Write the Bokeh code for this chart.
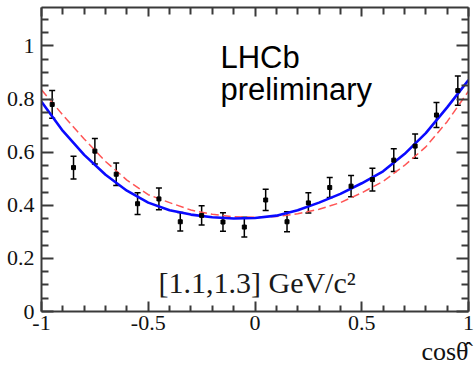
from bokeh.plotting import figure
from bokeh.models import (ColumnDataSource, Whisker, TeeHead, LinearAxis,
                          FixedTicker, Label, Range1d, Title)
from bokeh.embed import file_html
from bokeh.resources import INLINE

# ---- data ----
bin_centers = [-0.95, -0.85, -0.75, -0.65, -0.55, -0.45, -0.35, -0.25, -0.15, -0.05,
               0.05, 0.15, 0.25, 0.35, 0.45, 0.55, 0.65, 0.75, 0.85, 0.95]
values = [0.780, 0.542, 0.604, 0.517, 0.406, 0.424, 0.338, 0.362, 0.337, 0.318,
          0.420, 0.338, 0.409, 0.467, 0.472, 0.497, 0.570, 0.623, 0.740, 0.832]
errors = [0.052, 0.043, 0.048, 0.042, 0.041, 0.041, 0.035, 0.036, 0.035, 0.037,
          0.040, 0.038, 0.038, 0.038, 0.040, 0.043, 0.043, 0.046, 0.047, 0.055]

curve_x = [-1.0, -0.9, -0.8, -0.7, -0.6, -0.5, -0.4, -0.3, -0.2, -0.1, 0.0,
           0.1, 0.2, 0.3, 0.4, 0.5, 0.6, 0.7, 0.8, 0.9, 1.0]
fit_blue = [0.790, 0.680, 0.590, 0.515, 0.455, 0.410, 0.381, 0.365, 0.355, 0.350, 0.352,
            0.361, 0.381, 0.410, 0.443, 0.483, 0.528, 0.593, 0.672, 0.769, 0.872]
fit_red = [0.835, 0.740, 0.650, 0.565, 0.495, 0.440, 0.410, 0.382, 0.366, 0.357, 0.355,
           0.358, 0.368, 0.385, 0.410, 0.447, 0.490, 0.550, 0.620, 0.715, 0.830]

x_ticks = [-1.0, -0.5, 0.0, 0.5, 1.0]
x_tick_labels = ["-1", "-0.5", "0", "0.5", "1"]
x_minor_ticks = [-0.9, -0.8, -0.7, -0.6, -0.4, -0.3, -0.2, -0.1,
                 0.1, 0.2, 0.3, 0.4, 0.6, 0.7, 0.8, 0.9]
y_ticks = [0.0, 0.2, 0.4, 0.6, 0.8, 1.0]
y_tick_labels = ["0", "0.2", "0.4", "0.6", "0.8", "1"]
y_minor_ticks = [0.05, 0.1, 0.15, 0.25, 0.3, 0.35, 0.45, 0.5, 0.55, 0.65, 0.7, 0.75,
                 0.85, 0.9, 0.95, 1.05, 1.1]

x_title = "cos\u03b8\u0302"
mass_label = "[1.1,1.3] GeV/c\u00b2"
lhcb_1 = "LHCb"
lhcb_2 = "preliminary"

# ---- figure ----
p = figure(width=475, height=368, output_backend="svg", toolbar_location=None,
           x_range=Range1d(-1, 1), y_range=Range1d(0, 1.145),
           min_border_left=41, min_border_right=7, min_border_top=7,
           min_border_bottom=57, background_fill_color="white",
           border_fill_color="white")
p.grid.visible = False
p.outline_line_color = None

AX = "#3a3a3a"
SERIF = "Liberation Serif"

xt = FixedTicker(ticks=x_ticks, minor_ticks=x_minor_ticks)
yt = FixedTicker(ticks=y_ticks, minor_ticks=y_minor_ticks)

def style(ax, ticker, major_in, minor_in, labels=None):
    ax.ticker = ticker
    ax.axis_line_color = AX
    ax.axis_line_width = 2
    ax.major_tick_line_color = AX
    ax.minor_tick_line_color = AX
    ax.major_tick_line_width = 2
    ax.minor_tick_line_width = 2
    ax.major_tick_in = major_in
    ax.major_tick_out = 0
    ax.minor_tick_in = minor_in
    ax.minor_tick_out = 0
    if labels is None:
        ax.major_label_text_font_size = "0px"
        ax.major_label_text_color = None
        ax.major_label_standoff = 0
    else:
        ax.major_label_overrides = labels
        ax.major_label_text_font = SERIF
        ax.major_label_text_font_size = "22px"
        ax.major_label_text_color = "#111111"

xb = p.xaxis[0]
style(xb, xt, 10, 6, dict(zip(x_ticks, x_tick_labels)))
xb.major_label_standoff = 4

yl = p.yaxis[0]
style(yl, yt, 12, 7, dict(zip(y_ticks, y_tick_labels)))
yl.major_label_standoff = 7

xtop = LinearAxis()
style(xtop, xt, 9, 7)
p.add_layout(xtop, "above")
yr = LinearAxis()
style(yr, yt, 12, 7)
p.add_layout(yr, "right")

# x-axis title, right aligned below the axis
p.add_layout(Title(text=x_title, align="right", text_font=SERIF,
                   text_font_size="26px", text_font_style="normal",
                   text_color="#111111", standoff=5, offset=0), "below")

# ---- fits ----
p.line(curve_x, fit_red, line_color="#ff5555", line_width=1.5, line_dash="8 4")
p.line(curve_x, fit_blue, line_color="#0a0aff", line_width=2.6)

# ---- data points ----
src = ColumnDataSource(dict(
    x=bin_centers, y=values,
    upper=[v + e for v, e in zip(values, errors)],
    lower=[v - e for v, e in zip(values, errors)]))
p.add_layout(Whisker(base="x", upper="upper", lower="lower", source=src,
                     line_color="black", line_width=1.5,
                     upper_head=TeeHead(size=6, line_color="black", line_width=1.5),
                     lower_head=TeeHead(size=6, line_color="black", line_width=1.5)))
p.scatter("x", "y", source=src, marker="square", size=4, color="black")

# ---- texts ----
p.add_layout(Label(x=-0.162, y=0.955, text=lhcb_1, text_font="Liberation Sans",
                   text_font_size="31px", text_baseline="alphabetic", text_color="black"))
p.add_layout(Label(x=-0.162, y=0.835, text=lhcb_2, text_font="Liberation Sans",
                   text_font_size="31px", text_baseline="alphabetic", text_color="black"))
p.add_layout(Label(x=-0.452, y=0.108, text=mass_label, text_font=SERIF,
                   text_font_size="30px", text_baseline="alphabetic", text_color="#1a1a1a"))

open("out.html", "w").write(file_html(p, INLINE))
